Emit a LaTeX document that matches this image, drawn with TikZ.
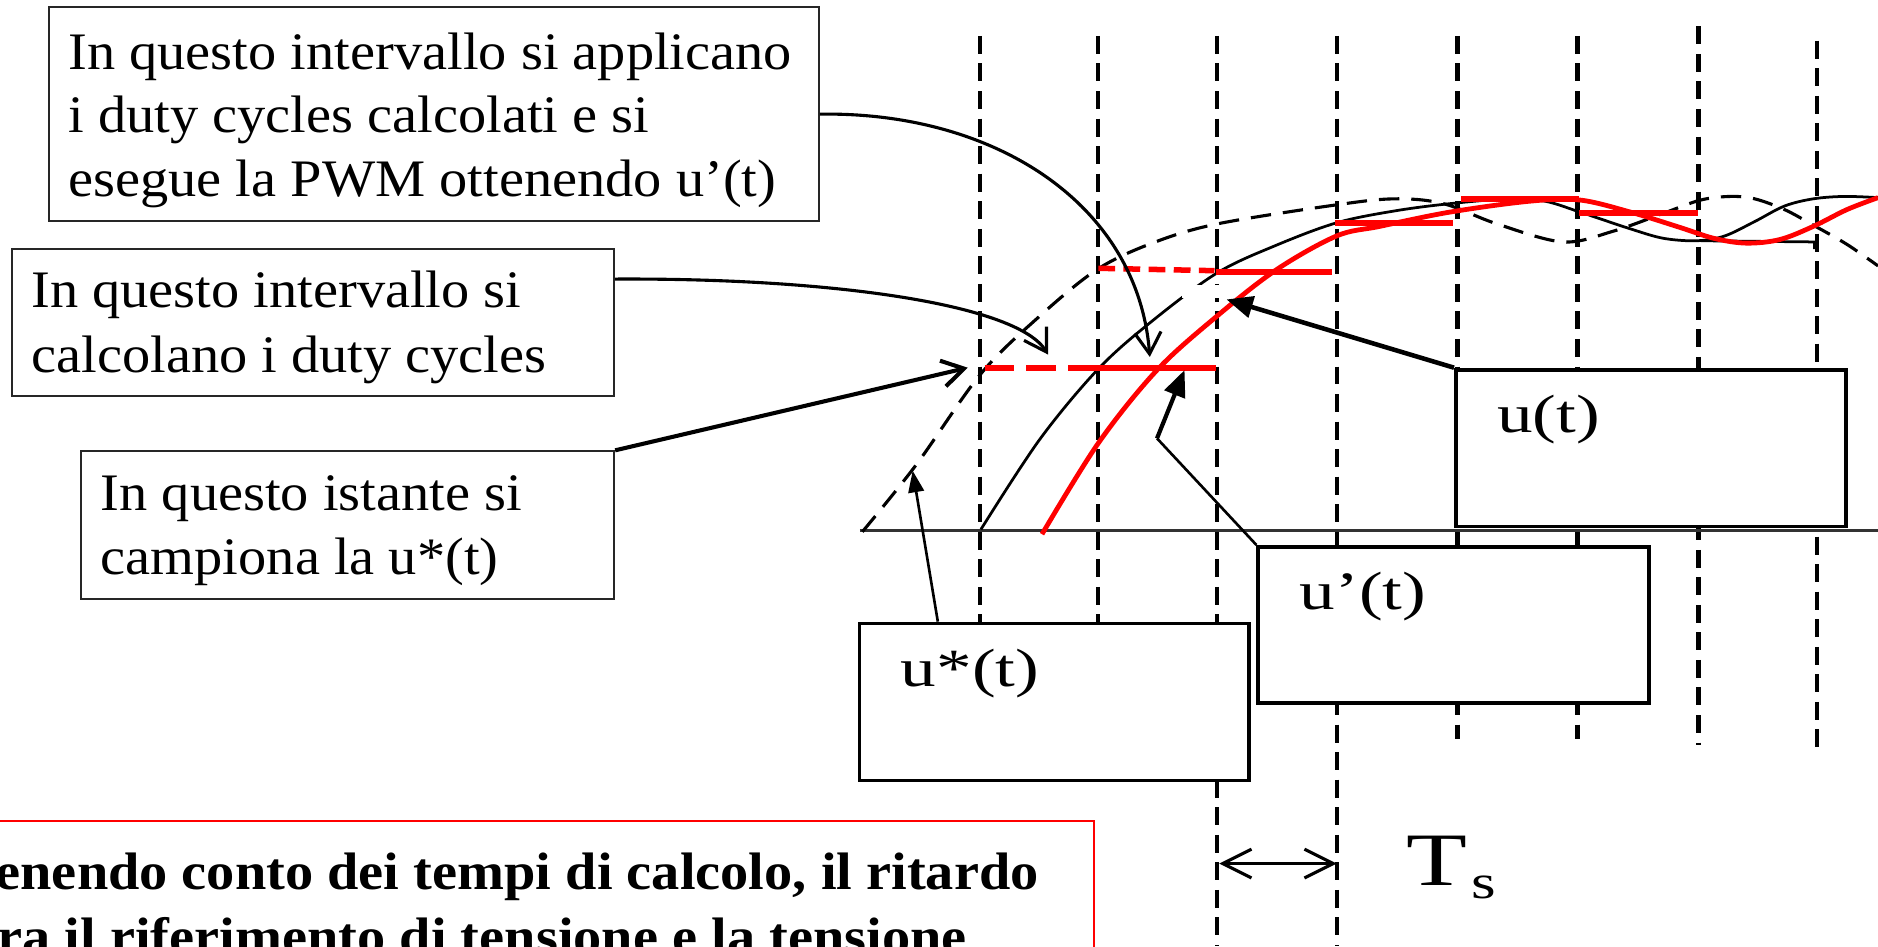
\documentclass[tikz,border=0pt]{standalone}
\usepackage{fontspec}
\setmainfont{Liberation Serif}
\newfontfamily\cam[FakeStretch=1.07]{Liberation Serif}
\newfontfamily\lbl[FakeStretch=1.32]{Liberation Serif}
\usetikzlibrary{arrows.meta}
\begin{document}
\begin{tikzpicture}[x=1pt,y=-1pt,
  vline/.style={line width=3.6pt, dash pattern=on 15pt off 8pt},
  tbox/.style={draw=black!85, line width=1.6pt, fill=white, inner sep=0pt, anchor=north west},
  ubox/.style={draw, line width=3.2pt, fill=white, inner sep=0pt, anchor=north west},
  txt/.style={anchor=base west, inner sep=0pt, font=\cam\fontsize{44}{53}\selectfont},
  boldtxt/.style={anchor=base west, inner sep=0pt, font=\cam\bfseries\fontsize{44}{53}\selectfont},
  lab/.style={anchor=base west, inner sep=0pt, font=\lbl\fontsize{45}{45}\selectfont},
  refcurve/.style={line width=2.6pt, dash pattern=on 17pt off 10pt},
  ucurve/.style={line width=2.3pt},
  redcurve/.style={red, line width=4pt},
  redh/.style={red, line width=5.2pt},
  barb/.style={line width=2.6pt, -{Straight Barb[length=18pt,width=22pt]}},
  tri/.style={-{Triangle[length=22pt,width=18pt]}}
]
\useasboundingbox (0,0) rectangle (1568,790);
\clip (0,0) rectangle (1568,790);

% sampling instants
\foreach \x/\t/\b in {818/30/519, 917/30/519, 1016/30/790, 1116/30/790,
                      1217/30/617, 1317/30/617, 1418/22/622, 1517/34/625}
  \draw[vline] (\x,\t) -- (\x,\b);

% time axis
\draw[line width=2.3pt, black!80] (718,443) -- (1568,443);

% reference u*(t)
\draw[refcurve] plot[smooth, tension=0.55] coordinates {
  (720,444) (765,388) (819,312) (868,264) (916,225) (962,203) (1016,187)
  (1116,171) (1165,166) (1205,170) (1250,187) (1305,202) (1347,193)
  (1389,178) (1420,167) (1445,164) (1465,166) (1490,175) (1514,188)
  (1542,204) (1568,222)};

% u(t)
\draw[ucurve] plot[smooth, tension=0.55] coordinates {
  (819,442) (868,367) (917,308) (962,268) (1016,228) (1065,205) (1116,186)
  (1165,176) (1211,170) (1260,166) (1290,168) (1319,177) (1361,191)
  (1389,199) (1417,201) (1440,197) (1465,185) (1490,172) (1514,166)
  (1540,164) (1568,165)};
\draw[ucurve] (1420,201) -- (1515,202) -- (1515,208);

% u'(t)
\draw[redcurve] plot[smooth, tension=0.55] coordinates {
  (870,446) (917,370) (966,309) (1016,264) (1066,225) (1116,197) (1152,189)
  (1211,177) (1277,168) (1319,167) (1361,177) (1403,190) (1431,199)
  (1458,203) (1486,200) (1514,189) (1542,175) (1568,165)};

% staircase
\draw[redh, dash pattern=on 25pt off 10pt] (822,307) -- (917,307);
\draw[redh] (917,307) -- (1015,307);
\draw[redh, line width=4.6pt, dash pattern=on 14pt off 7pt] (917,224) -- (1014,226);
\draw[redh] (1015,227) -- (1112,227);
\draw[redh] (1115,186) -- (1213,186);
\draw[redh] (1220,166) -- (1318,166);
\draw[redh] (1318,178) -- (1418,178);

\fill[white] (987,238) rectangle (1020,249);

% labelled boxes
\node[ubox, minimum width=325pt, minimum height=131pt] (us) at (716,519) {};
\node[lab] (uslab) at (752,573) {u*(t)};
\node[ubox, minimum width=326pt, minimum height=130pt] (up) at (1049,455) {};
\node[lab] (uplab) at (1085,509) {u’(t)};
\node[ubox, minimum width=326pt, minimum height=131pt] (ut) at (1214,307) {};
\node[lab] (utlab) at (1250,361) {u(t)};

\coordinate (ustip) at (762,393);
\coordinate (upknee) at (966,366);
\coordinate (uptip) at (989,309);
\coordinate (uttip) at (1024,250);
\draw[line width=2.2pt, -{Triangle[length=18pt,width=13pt]}] ([xshift=67pt]us.north west) -- (ustip);
\draw[line width=2.2pt] (up.north west) -- (upknee);
\draw[line width=3.5pt, tri] (upknee) -- (uptip);
\draw[line width=3.8pt, tri] (ut.north west) -- (uttip);

% explanation boxes
\node[tbox, minimum width=643pt, minimum height=179pt] (b1) at (40,5) {};
\node[txt] (b1a) at (57,58) {In questo intervallo si applicano};
\node[txt] (b1b) at (57,111) {i duty cycles calcolati e si};
\node[txt] (b1c) at (57,164) {esegue la PWM ottenendo u’(t)};

\node[tbox, minimum width=503pt, minimum height=123pt] (b2) at (9,207) {};
\node[txt] (b2a) at (26,257) {In questo intervallo si};
\node[txt] (b2b) at (26,311) {calcolano i duty cycles};

\node[tbox, minimum width=445pt, minimum height=123pt] (b3) at (67,376) {};
\node[txt] (b3a) at (84,426) {In questo istante si};
\node[txt] (b3b) at (84,480) {campiona la u*(t)};

\coordinate (t1) at (960,298);
\coordinate (t2) at (875,296);
\coordinate (t3) at (808,307);
\draw[barb] (b1.east) .. controls (830,93) and (950,170) .. (t1);
\draw[barb] ([yshift=-26pt]b2.north east) .. controls (700,232) and (850,255) .. (t2);
\draw[barb, line width=3.4pt] (b3.north east) -- (t3);

% sampling period
\coordinate (ts1) at (1018,721);
\coordinate (ts2) at (1116,721);
\draw[line width=2.6pt, {Straight Barb[length=24pt,width=24pt]}-{Straight Barb[length=24pt,width=24pt]}] (ts1) -- (ts2);
\node[anchor=base west, inner sep=0pt, font=\lbl\fontsize{63}{63}\selectfont] (ts) at (1174,739)
  {T\hspace{4pt}\raisebox{-11pt}{\fontsize{40}{40}\selectfont s}};

% note
\node[draw=red, line width=1.5pt, minimum width=930pt, minimum height=130pt, inner sep=0pt, anchor=north east] (note) at (914,685) {};
\node[boldtxt] (n1) at (-31,743) {Tenendo conto dei tempi di calcolo, il ritardo};
\node[boldtxt] (n2) at (-18,797) {tra il riferimento di tensione e la tensione};
\end{tikzpicture}
\end{document}
